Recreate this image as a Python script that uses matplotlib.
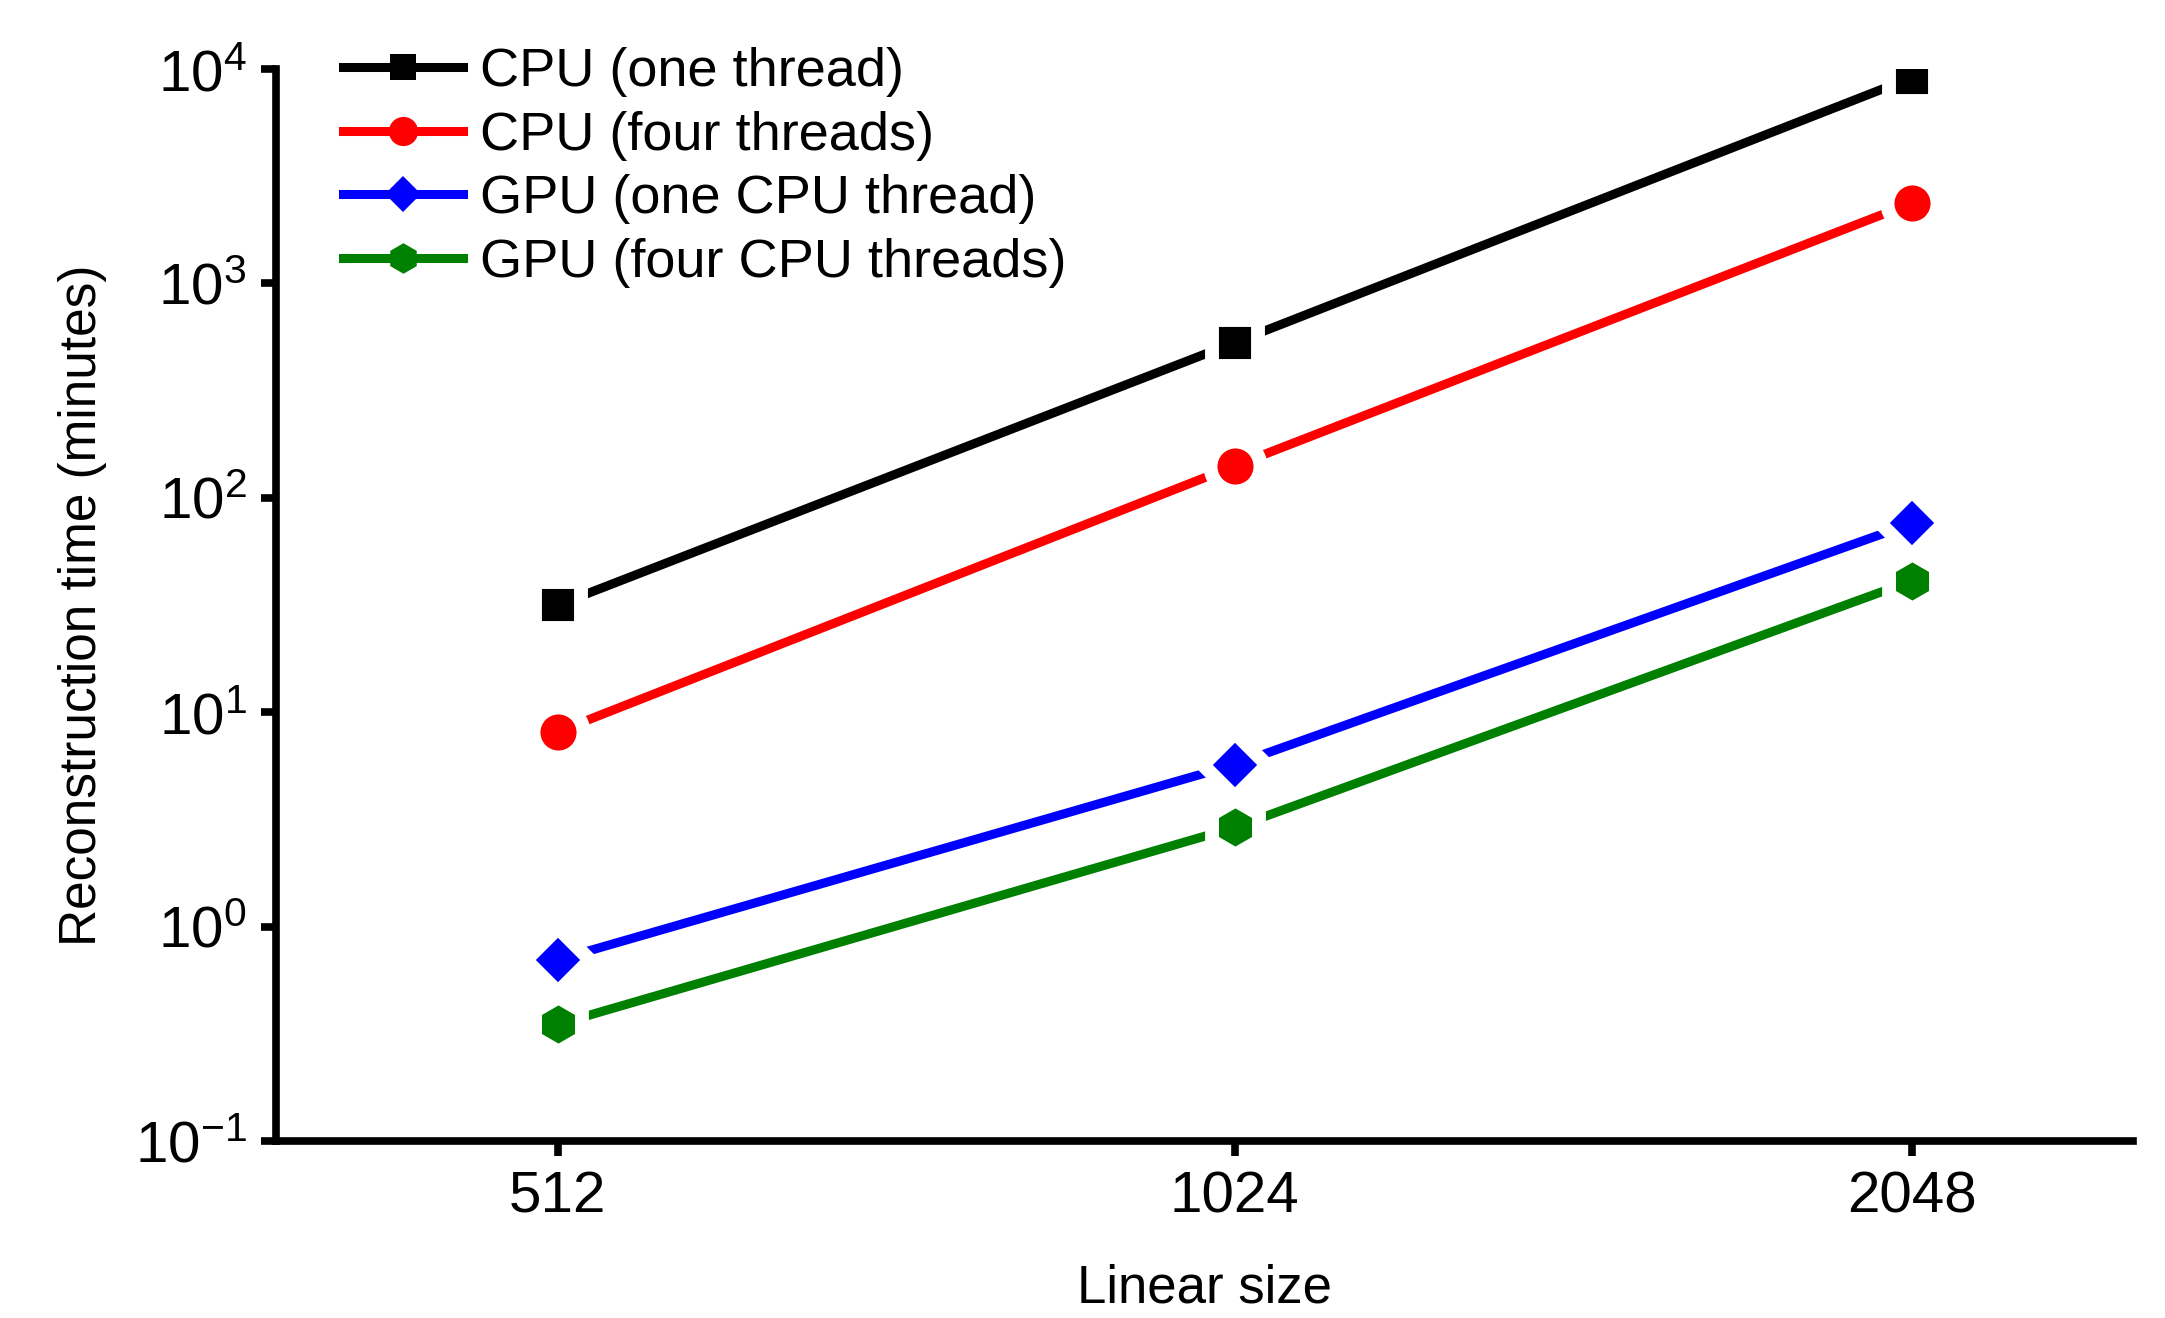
import matplotlib.pyplot as plt
from matplotlib.lines import Line2D

plt.rcParams['font.family'] = ['Liberation Sans', 'DejaVu Sans']
plt.rcParams['mathtext.fontset'] = 'custom'
plt.rcParams['mathtext.rm'] = 'Liberation Sans'
plt.rcParams['mathtext.it'] = 'Liberation Sans'
plt.rcParams['axes.unicode_minus'] = False

sizes = ['512', '1024', '2048']
cpu_one = [31.6, 530, 9130]
cpu_four = [8.1, 141, 2370]
gpu_one = [0.70, 5.7, 76]
gpu_four = [0.35, 2.9, 41]
ytick_vals = [0.1, 1, 10, 100, 1000, 10000]
ytick_labels = ['$10^{-1}$', '$10^{0}$', '$10^{1}$', '$10^{2}$', '$10^{3}$', '$10^{4}$']

# label, data, colour, marker, marker size (pt), legend marker size
series = [
    ('CPU (one thread)', cpu_one, 'black', 's', 33, 19),
    ('CPU (four threads)', cpu_four, 'red', 'o', 36, 21),
    ('GPU (one CPU thread)', gpu_one, 'blue', 'D', 33, 18),
    ('GPU (four CPU threads)', gpu_four, 'green', 'h', 39, 22),
]

fig = plt.figure(figsize=(21.65, 13.18), dpi=100)
ax = fig.add_axes([0.1275, 0.1343, 0.8575, 0.8133])

x = list(range(len(sizes)))
handles = []
for label, vals, color, marker, ms, lms in series:
    # white marker edge leaves the small gap between line and marker
    ax.plot(x, vals, color=color, marker=marker, markersize=ms, linewidth=6.5,
            markeredgecolor='white', markeredgewidth=10, markerfacecolor=color,
            zorder=3)
    handles.append(Line2D([], [], color=color, marker=marker, markersize=lms,
                          linewidth=6.5, markeredgewidth=0, label=label))

ax.set_yscale('log')
ax.set_ylim(0.1, 1e4)
ax.set_xlim(-0.416, 2.326)
ax.set_xticks(x)
ax.set_xticklabels(sizes)
ax.minorticks_off()
ax.set_yticks(ytick_vals)
ax.set_yticklabels(ytick_labels)

for side in ['top', 'right']:
    ax.spines[side].set_visible(False)
for side in ['left', 'bottom']:
    ax.spines[side].set_linewidth(5.5)

ax.tick_params(axis='both', which='major', length=11, width=5.5, labelsize=42, pad=10)
ax.set_xlabel('Linear size', fontsize=38, labelpad=28)
ax.set_ylabel('Reconstruction time (minutes)', fontsize=37, labelpad=20)

ax.legend(handles=handles, loc='upper left', bbox_to_anchor=(0.01, 1.066), frameon=False,
          fontsize=39, handlelength=2.2, handletextpad=0.33, labelspacing=0.25)

plt.savefig('out.png', dpi=100)
